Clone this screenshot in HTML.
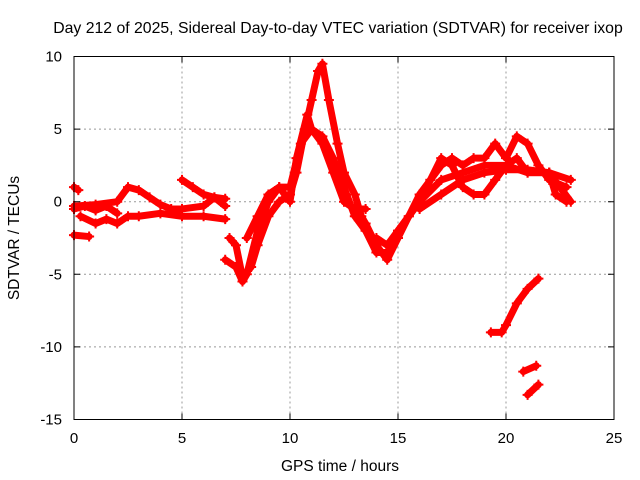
<!DOCTYPE html>
<html><head><meta charset="utf-8"><style>
body{margin:0;background:#fff;}
svg{display:block;font-family:"Liberation Sans",sans-serif;}
</style></head><body>
<svg id="c" width="640" height="480">
<text x="338" y="33" font-size="15.8" text-anchor="middle" fill="#000">Day 212 of 2025, Sidereal Day-to-day VTEC variation (SDTVAR) for receiver ixop</text>
<text x="340" y="471" font-size="15.5" text-anchor="middle">GPS time / hours</text>
<text transform="translate(19,238) rotate(-90)" font-size="15.5" text-anchor="middle">SDTVAR / TECUs</text>
<g id="grid"></g>
<g id="series"></g>
<rect x="74" y="56.5" width="540" height="363" fill="none" stroke="#000" stroke-width="1"/>
<g id="ticks"></g>
</svg>
<script>
const xTicks=[0,5,10,15,20,25];
const yTicks=[-15,-10,-5,0,5,10];
const t1=[[0,-0.3],[1,-0.2],[2,0],[2.5,1],[3,0.8],[3.5,0.3],[4,-0.2],[4.5,-0.5],[5,-0.5],[6,-0.3],[6.5,0.3],[7,0.2]];
const t2=[[0.3,-1],[1,-1.5],[1.5,-1.2],[2,-1.5],[2.5,-1],[3,-1],[4,-0.8],[5,-1],[6,-1],[7,-1.2]];
const t3=[[5,1.5],[5.5,1],[6,0.5],[6.5,0.3],[7,-0.3]];
const t4=[[0,-0.5],[0.5,-0.3],[1,-0.6],[1.5,-0.3],[2,-0.8]];
const t5=[[0,1.0],[0.2,0.8]];
const t6=[[0,-2.3],[0.7,-2.4]];
const t7=[[7.2,-2.5],[7.5,-3],[7.8,-5.2],[8.2,-4.5],[8.5,-3],[9,-1],[9.5,0],[10,0.5],[10.3,2],[10.7,5],[11,7],[11.3,9],[11.5,9.5],[11.8,7],[12.2,4],[12.5,2],[13,0.5],[13.3,-1],[13.5,-1.5],[14,-3],[14.5,-4],[15,-2.5],[15.5,-1],[16,0.5],[16.5,1.5],[17,2.5],[17.5,3],[18,2.5],[18.5,3],[19,3],[19.5,4],[20,3],[20.5,4.5],[21,4],[21.5,2.5],[22,1.5],[22.8,1]];
const t8=[[7,-4],[7.5,-4.5],[7.8,-5.5],[8,-5],[8.5,-2],[9,0],[9.5,1],[10,0],[10.3,3],[10.8,6],[11,5],[11.5,4.5],[12,3],[12.5,1],[13,-1],[13.5,-2],[14,-3.5],[14.5,-3.5],[15,-2],[15.5,-1],[16,0],[17,1.5],[18,2],[19,2.5],[20,2.5],[20.5,3],[21,2],[22,2],[22.5,1],[23,0]];
const t9=[[8,-2.5],[8.5,-1],[9,0.5],[9.5,1],[10,1],[10.5,4],[11,5],[11.5,4],[12,2],[12.5,0],[13,-0.5],[13.5,-0.5]];
const t10=[[14,-2.5],[14.5,-3],[15,-2],[16,0],[16.5,1.5],[17,3],[17.5,2.5],[18,1],[18.5,0.5],[19,0.5],[19.5,1.5],[20,2.5],[21,2],[22,2],[23,1.5]];
const t11=[[16,-0.5],[17,0.5],[18,1.5],[19,2],[20,2.2],[21,2.2],[22,2],[22.3,0.5],[22.8,0]];
const t12=[[19.3,-9],[19.8,-9],[20,-8.5],[20.5,-7],[21,-6],[21.5,-5.3]];
const t13=[[20.8,-11.7],[21.4,-11.3]];
const t14=[[21,-13.3],[21.5,-12.6]];
const tracks=[t1,t2,t3,t4,t5,t6,t7,t8,t9,t10,t11,t12,t13,t14];
const NS='http://www.w3.org/2000/svg';
const X=v=>74+v*540/25, Y=v=>56.5+(10-v)*363/25;
function mk(tag,attrs,parent){const e=document.createElementNS(NS,tag);for(const k in attrs)e.setAttribute(k,attrs[k]);parent.appendChild(e);return e;}
const grid=document.getElementById('grid'),ticks=document.getElementById('ticks'),ser=document.getElementById('series'),svg=document.getElementById('c');
xTicks.forEach(v=>{
 if(v>0&&v<25){const g=mk('line',{x1:X(v),x2:X(v),y1:56.5,y2:419.5,stroke:'#999','stroke-dasharray':'2,3'},grid);
 
 }
 const t=mk('path',{d:`M${X(v)},419.5v-6M${X(v)},56.5v6`,stroke:'#000'},ticks);
 
 
 const l=mk('text',{x:X(v),y:443,'font-size':15,'text-anchor':'middle'},svg);l.textContent=v;
 
 
});
yTicks.forEach(v=>{
 if(v>-15&&v<10){const g=mk('line',{x1:74,x2:614,y1:Y(v),y2:Y(v),stroke:'#999','stroke-dasharray':'2,3'},grid);
 
 }
 const t=mk('path',{d:`M74,${Y(v)}h6M614,${Y(v)}h-6`,stroke:'#000'},ticks);
 
 
 const l=mk('text',{x:62,y:Y(v)+5,'font-size':15,'text-anchor':'end'},svg);l.textContent=v;
 
 
});
tracks.forEach(tr=>{
 const p=mk('polyline',{points:tr.map(d=>X(d[0])+','+Y(d[1])).join(' '),fill:'none',stroke:'#f00','stroke-width':7,'stroke-linejoin':'round','stroke-linecap':'round'},ser);
 
 
 tr.forEach(d=>{
  const m=mk('path',{d:`M${X(d[0])-5},${Y(d[1])}h10M${X(d[0])},${Y(d[1])-5}v10`,stroke:'#f00','stroke-width':2},ser);
  
  
 });
});
</script>
</body></html>
